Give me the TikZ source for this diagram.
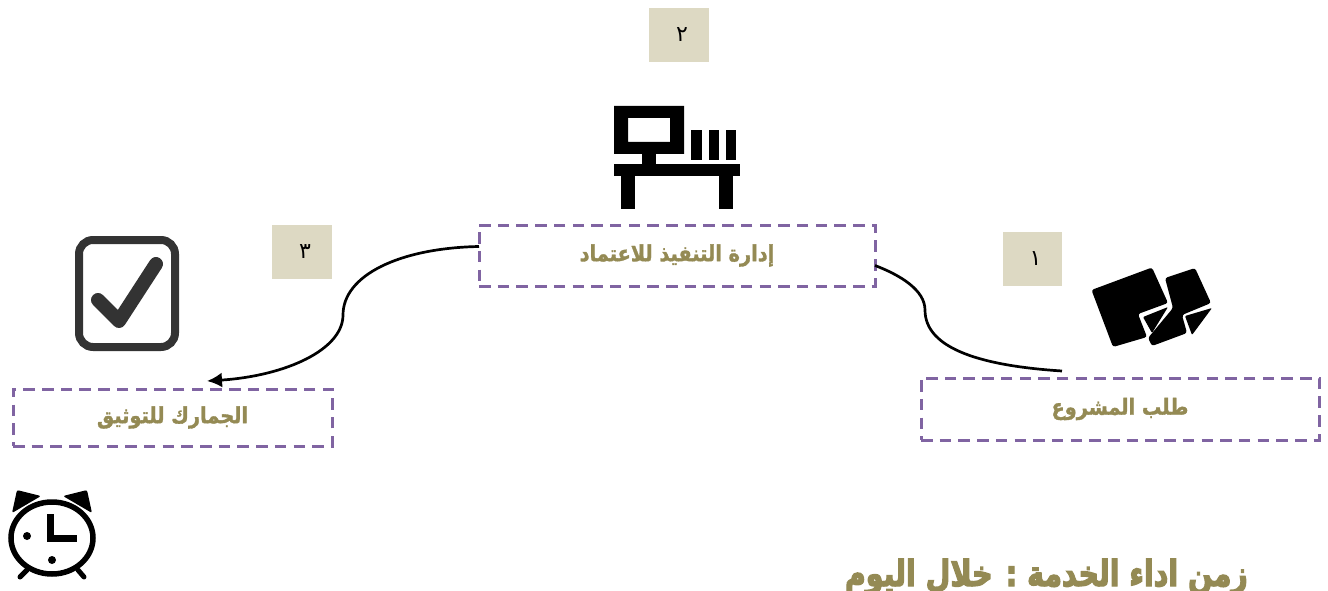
\documentclass[tikz,border=0pt]{standalone}
\usepackage{fontspec}
\usetikzlibrary{arrows.meta,calc}
\TeXXeTstate=1
\newfontfamily\arabicfont[Script=Arabic]{DejaVu Sans}
\newfontfamily\arabicheavy[Script=Arabic,FakeBold=1.5]{DejaVu Sans Bold}
\newfontfamily\arabictitle[Script=Arabic,FakeBold=4]{DejaVu Sans Bold}
\newcommand{\tallA}[1]{\scalebox{1}[1.15]{#1}}
\newcommand{\tallB}[1]{\scalebox{1}[1.25]{#1}}
\definecolor{dashpurple}{HTML}{8064A2}
\definecolor{olivetext}{HTML}{948A54}
\definecolor{numfill}{HTML}{DDD9C3}
\definecolor{checkgrey}{HTML}{333333}
\tikzset{
  x=1pt,y=-1pt,
  stepbox/.style={draw=dashpurple,line width=3pt,dash pattern=on 11.5pt off 7.2pt,inner sep=0pt,outer sep=0pt,
    text=olivetext,font=\arabicfont\bfseries\fontsize{19.3}{22}\selectfont,anchor=north west},
  numbox/.style={fill=numfill,inner sep=0pt,outer sep=0pt,anchor=north west,font=\arabicfont\fontsize{22}{24}\selectfont,text=black},
  flow/.style={line width=2.7pt,black},
  icon/.style={fill=black,draw=none},
}
\begin{document}
\begin{tikzpicture}
\useasboundingbox (0,0) rectangle (1328,591);
% boxes
\node[stepbox,minimum width=396pt,minimum height=61pt] (mgmt) at (479,225) {\raisebox{2pt}{\arabicheavy\tallA{\beginR إدارة التنفيذ للاعتماد\endR}}};
\node[stepbox,minimum width=398pt,minimum height=62pt] (req) at (921,378) {\raisebox{2pt}{\arabicheavy\tallA{\beginR طلب المشروع\endR}}};
\node[stepbox,minimum width=319pt,minimum height=57pt] (cust) at (13,389) {\arabicheavy\tallA{\beginR الجمارك للتوثيق\endR}};
% number boxes
\node[numbox,minimum width=60pt,minimum height=54pt] (n2) at (649,8) {\hspace{6pt}\raisebox{1pt}{\beginR ٢\endR}};
\node[numbox,minimum width=59pt,minimum height=54pt] (n1) at (1003,232) {\hspace{6pt}\raisebox{-2pt}{\beginR ١\endR}};
\node[numbox,minimum width=60pt,minimum height=54pt] (n3) at (272,225) {\hspace{6pt}\raisebox{1pt}{\beginR ٣\endR}};
% connectors
\coordinate (reqend) at ($(req.north west)+(141,-7)$);
\coordinate (mgmtin) at ([yshift=-10pt]mgmt.east);
\coordinate (mgmtout) at ([yshift=9pt]mgmt.west);
\coordinate (custin) at ($(cust.north west)+(194,-8)$);
\draw[flow] (reqend) .. controls (985,366) and (925,350) .. (925,310)
  .. controls (925,290) and (900,275) .. (mgmtin);
\draw[flow,-{Latex[length=15pt,width=15pt]}] (mgmtout) .. controls (400,248) and (343,275) .. (343,315)
  .. controls (343,350) and (285,376) .. (custin);
% computer icon
\fill[icon,even odd rule] (614,106) rectangle (684,154) (628,118) rectangle (670,142);
\fill[icon] (642,154) rectangle (656,164);
\fill[icon] (614,164) rectangle (740,176);
\fill[icon] (621,170) rectangle (635,209);
\fill[icon] (719,170) rectangle (733,209);
\fill[icon] (691,130) rectangle (702,160);
\fill[icon] (709,130) rectangle (719,160);
\fill[icon] (726,130) rectangle (736,160);
% documents icon
\fill[icon,rounded corners=2.5pt] (1091.5,290) -- (1152,267.5) -- (1168,303) -- (1138,314) -- (1147,337) -- (1113,347) -- cycle;
\fill[icon,rounded corners=1pt] (1143,317) -- (1168,307) -- (1152,333) -- cycle;
\fill[icon,rounded corners=2.5pt] (1165,278) -- (1195,268) -- (1211,303) -- (1182,315) -- (1187,333) -- (1152,346) -- (1148,338) -- (1173,308) -- cycle;
\fill[icon,rounded corners=1pt] (1185,316) -- (1212,308) -- (1192,335) -- cycle;
% checkbox icon
\draw[checkgrey,line width=8pt,rounded corners=14pt] (79,240) rectangle (175,347);
\draw[checkgrey,line width=14pt,line cap=round,line join=round] (98,300) -- (119,321) -- (156,264);
% clock icon
\draw[black,line width=5.5pt] (52,538) ellipse [x radius=41,y radius=36];
\draw[black,line width=7pt,line join=miter] (50.5,514) -- (50.5,538) -- (77,538);
\fill[black] (27,536) circle (4) (52,560) circle (4);
\fill[black,rounded corners=2pt] (12,513) -- (17,490) -- (41,496) -- cycle;
\fill[black,rounded corners=2pt] (92,513) -- (87,490) -- (63,496) -- cycle;
\draw[black,line width=5pt,line cap=round] (27,570) -- (20,577) (78,570) -- (84,577);
% title
\node[text=olivetext,draw=none,inner sep=0pt,anchor=base east,font=\arabictitle\fontsize{28.5}{30}\selectfont] (title) at (1248,586) {\tallB{\beginR زمن اداء الخدمة : خلال اليوم\endR}};
\end{tikzpicture}
\end{document}
